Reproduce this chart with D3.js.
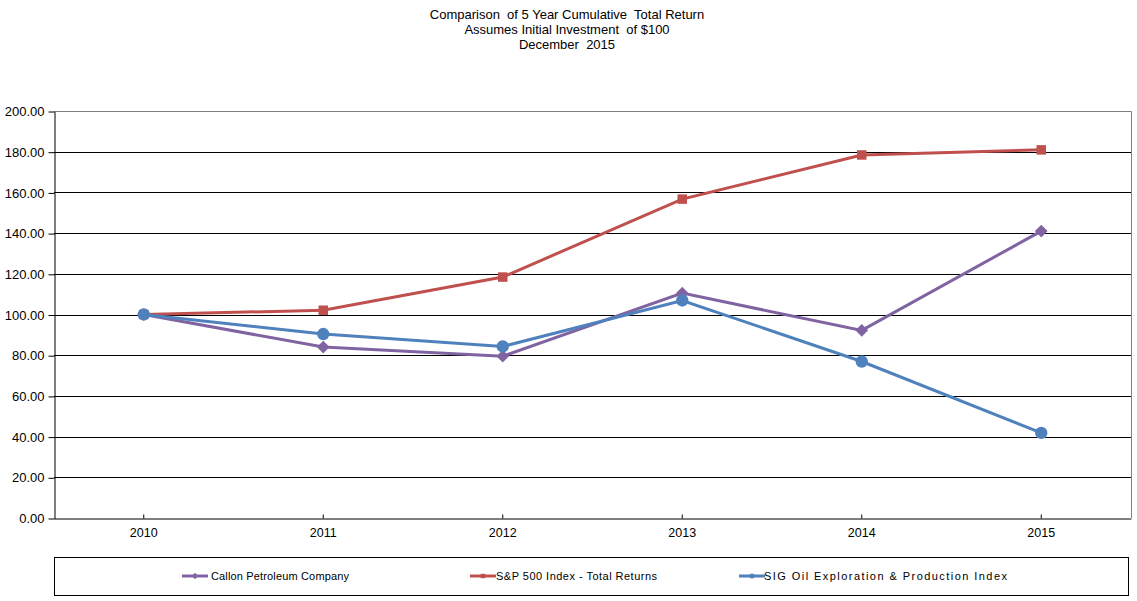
<!DOCTYPE html>
<html>
<head>
<meta charset="utf-8">
<script src="https://cdn.jsdelivr.net/npm/d3@7"></script>
<style>
  body { margin: 0; background: #fff; }
  text { font-family: Arial, "Liberation Sans", sans-serif; fill: #000; }
</style>
</head>
<body>
<div id="chart"></div>
<script>
var years = ["2010", "2011", "2012", "2013", "2014", "2015"];
var yTicks = [0, 20, 40, 60, 80, 100, 120, 140, 160, 180, 200];
var callon = [100.00, 84.00, 79.50, 110.50, 92.20, 141.00];
var sp500 = [100.00, 102.10, 118.40, 156.70, 178.40, 180.90];
var sigOil = [100.00, 90.40, 84.30, 106.90, 76.90, 41.80];
var seriesNames = ["Callon Petroleum Company", "S&P 500 Index - Total Returns", "SIG Oil Exploration & Production Index"];
var titleLines = ["Comparison  of 5 Year Cumulative  Total Return", "Assumes Initial Investment  of $100", "December  2015"];

var drawChart = function (domSelector) {
  var svg, x, y, line, series, plot, legend;

  svg = d3.select(domSelector)
    .append('svg')
    .attr('width', 1137)
    .attr('height', 601);

  var left = 54, right = 1131, top = 111, bottom = 518;

  x = d3.scaleBand().domain(years).range([left, right]).padding(0);
  y = d3.scaleLinear().domain([0, 200]).range([bottom, top]);

  // title
  svg.selectAll('.title')
    .data(titleLines)
    .enter().append('text')
    .attr('x', 567)
    .attr('y', function (d, i) { return 19 + i * 15; })
    .attr('text-anchor', 'middle')
    .style('font-size', '13px')
    .style('white-space', 'pre')
    .text(function (d) { return d; });

  // frame (top + right, gray)
  svg.append('path')
    .attr('d', 'M' + left + ',' + (top + 0.5) + 'H' + (right + 0.5) + 'V' + bottom)
    .attr('fill', 'none')
    .attr('stroke', '#808080')
    .attr('stroke-width', 1);

  // gridlines
  svg.selectAll('.grid')
    .data(yTicks.filter(function (d) { return d > 0 && d < 200; }))
    .enter().append('line')
    .attr('x1', left)
    .attr('x2', right)
    .attr('y1', function (d) { return Math.round(y(d)) + 0.5; })
    .attr('y2', function (d) { return Math.round(y(d)) + 0.5; })
    .attr('stroke', '#000')
    .attr('stroke-width', 1);

  // y axis
  var yAxis = svg.append('g')
    .attr('transform', 'translate(' + (left + 0.5) + ',0.5)')
    .call(d3.axisLeft(y).tickValues(yTicks).tickSize(6).tickSizeOuter(0)
      .tickFormat(function (d) { return d3.format('.2f')(d); }));
  yAxis.select('.domain').attr('stroke', '#000');
  yAxis.selectAll('.tick line').attr('stroke', '#000');
  yAxis.selectAll('.tick text').attr('x', -10).style('font-size', '13px').style('font-family', 'Arial, "Liberation Sans", sans-serif');

  // x axis
  var xAxis = svg.append('g')
    .attr('transform', 'translate(0,' + (bottom + 0.5) + ')')
    .call(d3.axisBottom(x).tickSize(-4).tickSizeOuter(0).tickPadding(10));
  xAxis.select('.domain').attr('stroke', '#000');
  xAxis.selectAll('.tick line').attr('stroke', '#000');
  xAxis.selectAll('.tick text').style('font-size', '12.5px').style('font-family', 'Arial, "Liberation Sans", sans-serif');

  series = [
    { name: seriesNames[0], values: callon, color: '#8064A2', symbol: d3.symbolSquare, size: 80, rot: 45 },
    { name: seriesNames[1], values: sp500, color: '#C0504D', symbol: d3.symbolSquare, size: 90, rot: 0 },
    { name: seriesNames[2], values: sigOil, color: '#4F81BD', symbol: d3.symbolCircle, size: 120, rot: 0 }
  ];

  line = d3.line()
    .x(function (d, i) { return x(years[i]) + x.bandwidth() / 2; })
    .y(function (d) { return y(d); });

  plot = svg.append('g');

  series.forEach(function (s) {
    plot.append('path')
      .datum(s.values)
      .attr('d', line)
      .attr('fill', 'none')
      .attr('stroke', s.color)
      .attr('stroke-width', 3);

    plot.selectAll(null)
      .data(s.values)
      .enter().append('path')
      .attr('transform', function (d, i) {
        return 'translate(' + (x(years[i]) + x.bandwidth() / 2) + ',' + y(d) + ') rotate(' + s.rot + ')';
      })
      .attr('d', d3.symbol().type(s.symbol).size(s.size))
      .attr('fill', s.color);
  });

  // legend
  svg.append('rect')
    .attr('x', 54.5)
    .attr('y', 557.5)
    .attr('width', 1074)
    .attr('height', 38)
    .attr('fill', 'none')
    .attr('stroke', '#000');

  var legendX = [182, 470, 739];
  var legendTextX = [29, 26, 25];
  var legendTextW = [138, 161, 243];
  legend = svg.selectAll('.legend')
    .data(series)
    .enter().append('g')
    .attr('transform', function (d, i) { return 'translate(' + legendX[i] + ',576)'; });

  legend.append('line')
    .attr('x1', 0).attr('x2', 26)
    .attr('stroke', function (d) { return d.color; })
    .attr('stroke-width', 3);

  legend.append('path')
    .attr('transform', function (d) { return 'translate(13,0) rotate(' + d.rot + ')'; })
    .attr('d', function (d) { return d3.symbol().type(d.symbol).size(20)(); })
    .attr('fill', function (d) { return d.color; });

  legend.append('text')
    .attr('x', function (d, i) { return legendTextX[i]; })
    .attr('dy', '0.35em')
    .attr('textLength', function (d, i) { return legendTextW[i]; })
    .attr('lengthAdjust', 'spacing')
    .style('font-size', '11px')
    .text(function (d) { return d.name; });
};

drawChart('#chart');
</script>
</body>
</html>
